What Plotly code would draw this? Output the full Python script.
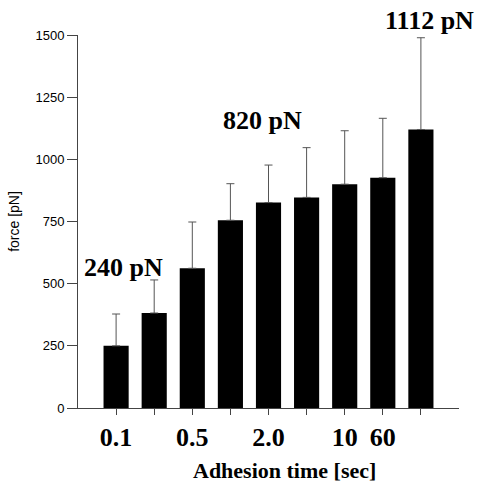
import plotly.graph_objects as go

positions = [1, 2, 3, 4, 5, 6, 7, 8, 9]
force_mean = [250, 382, 562, 755, 826, 847, 900, 926, 1120]
force_err = [128, 133, 186, 147, 151, 200, 215, 239, 369]
tick_positions = [1, 3, 5, 7, 8]
tick_labels = ["0.1", "0.5", "2.0", "10", "60"]
callout_text = ["240 pN", "820 pN", "1112 pN"]

serif = "Liberation Serif, Times New Roman, serif"
sans = "Liberation Sans, Arial, sans-serif"

W, H = 477, 485
L, R, T, B = 78, 18, 35, 77
pw, ph = W - L - R, H - T - B


def px_to_paper(px, py):
    return (px - L) / pw, (H - B - py) / ph


fig = go.Figure()
fig.add_trace(go.Bar(
    x=positions, y=force_mean, width=0.66,
    marker=dict(color="black", line=dict(width=0)),
    error_y=dict(type="data", symmetric=False, array=force_err,
                 arrayminus=[0] * len(force_err),
                 color="#555555", thickness=1, width=4),
))

callout_px = [(123, 267), (262, 120), (429, 21)]
for t, (cx, cy) in zip(callout_text, callout_px):
    x, y = px_to_paper(cx, cy)
    fig.add_annotation(x=x, y=y, xref="paper", yref="paper", text="<b>%s</b>" % t,
                       showarrow=False, xanchor="center", yanchor="middle",
                       font=dict(family=serif, size=26, color="black"))

tx, ty = px_to_paper(284, 471)
fig.add_annotation(x=tx, y=ty, xref="paper", yref="paper", text="<b>Adhesion time [sec]</b>",
                   showarrow=False, xanchor="center", yanchor="middle", borderpad=0,
                   font=dict(family=serif, size=22, color="black"))

fig.update_layout(
    width=W, height=H,
    margin=dict(l=L, r=R, t=T, b=B),
    paper_bgcolor="white", plot_bgcolor="white",
    showlegend=False,
    xaxis=dict(range=[0, 10], tickvals=positions,
               ticktext=[tick_labels[tick_positions.index(p)] if p in tick_positions else "" for p in positions],
               ticks="outside", ticklen=6, tickcolor="#444", tickwidth=1,
               showline=True, linecolor="#444", linewidth=1, showgrid=False, zeroline=False,
               tickfont=dict(family=serif, size=26, color="black", weight="bold")),
    yaxis=dict(range=[0, 1500], tickvals=[0, 250, 500, 750, 1000, 1250, 1500],
               ticks="outside", ticklen=10, tickcolor="#444", tickwidth=1,
               showline=True, linecolor="#444", linewidth=1, showgrid=False, zeroline=False,
               tickfont=dict(family=sans, size=13, color="black"),
               title=dict(text="force [pN]", font=dict(family=sans, size=14, color="black"), standoff=12)),
)

fig.write_html("out.html", config={"displayModeBar": False},
               post_script="document.body.style.margin='0';")
